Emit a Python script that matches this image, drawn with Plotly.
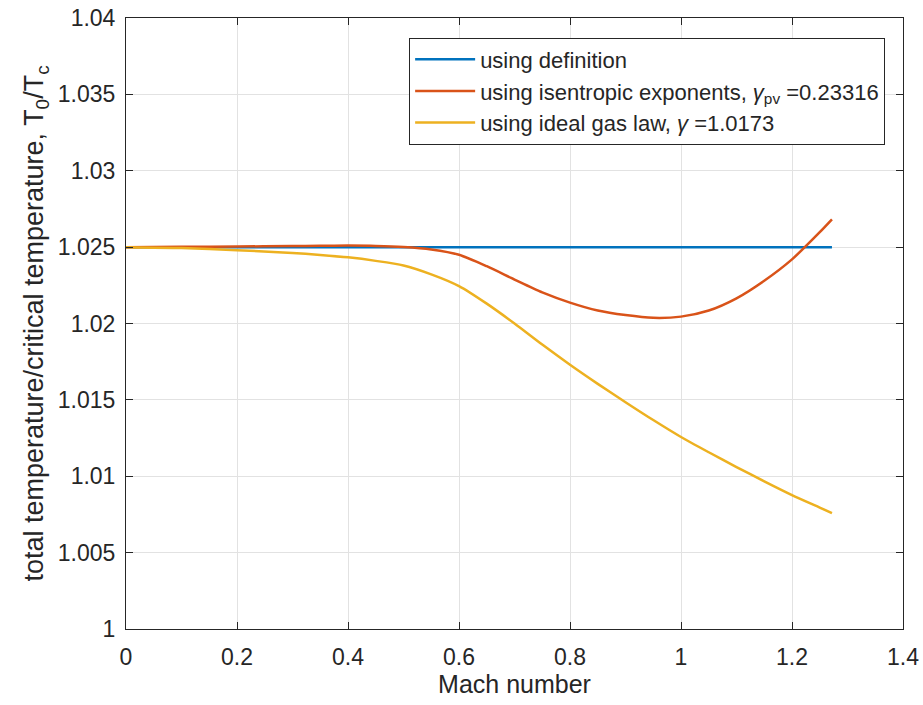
import plotly.graph_objects as go

# Mach number samples
mach = [0.0, 0.1, 0.2, 0.3, 0.35, 0.4, 0.45, 0.5, 0.55, 0.6, 0.65, 0.7, 0.75,
        0.8, 0.85, 0.9, 0.95, 1.0, 1.05, 1.1, 1.15, 1.2, 1.25, 1.272]

# T0/Tc from the definition
t0_definition = [1.02500, 1.02500, 1.02500, 1.02500, 1.02500, 1.02500, 1.02500,
                 1.02500, 1.02500, 1.02500, 1.02500, 1.02500, 1.02500, 1.02500,
                 1.02500, 1.02500, 1.02500, 1.02500, 1.02500, 1.02500, 1.02500,
                 1.02500, 1.02500, 1.02500]

# T0/Tc from isentropic exponents
t0_isentropic = [1.02500, 1.02502, 1.02504, 1.02507, 1.02509, 1.02510, 1.02508,
                 1.02501, 1.02485, 1.02450, 1.02375, 1.02288, 1.02204, 1.02137,
                 1.02085, 1.02055, 1.02037, 1.02045, 1.02085, 1.02165, 1.02280,
                 1.02420, 1.02598, 1.02682]

# T0/Tc from the ideal gas law
t0_ideal = [1.02500, 1.02494, 1.02480, 1.02462, 1.02449, 1.02433, 1.02410,
            1.02380, 1.02322, 1.02245, 1.02130, 1.02000, 1.01862, 1.01730,
            1.01605, 1.01485, 1.01368, 1.01257, 1.01157, 1.01060, 1.00967,
            1.00877, 1.00795, 1.00759]

names = [
    "using definition",
    "using isentropic exponents, <i>γ</i><sub>pv</sub> =0.23316",
    "using ideal gas law, <i>γ</i> =1.0173",
]
colors = ["#0072BD", "#D95319", "#EDB120"]

x_ticks = [0, 0.2, 0.4, 0.6, 0.8, 1, 1.2, 1.4]
x_tick_text = ["0", "0.2", "0.4", "0.6", "0.8", "1", "1.2", "1.4"]
y_ticks = [1, 1.005, 1.01, 1.015, 1.02, 1.025, 1.03, 1.035, 1.04]
y_tick_text = ["1", "1.005", "1.01", "1.015", "1.02", "1.025", "1.03", "1.035", "1.04"]

FONT = "Liberation Sans, Arial, Helvetica, sans-serif"
INK = "#262626"

fig = go.Figure()
for y, name, c in zip([t0_definition, t0_isentropic, t0_ideal], names, colors):
    fig.add_trace(go.Scatter(x=mach, y=y, mode="lines", name=name,
                             line=dict(color=c, width=2.5, shape="spline", smoothing=0.7)))

axis_common = dict(
    showline=True, linecolor=INK, linewidth=1, mirror="ticks",
    ticks="inside", ticklen=7, tickcolor=INK,
    showgrid=True, gridcolor="#e2e2e2", gridwidth=1,
    zeroline=False, automargin=False,
    tickfont=dict(family=FONT, size=23, color=INK),
)

fig.update_xaxes(range=[0, 1.4], tickvals=x_ticks, ticktext=x_tick_text,
                 ticklabelstandoff=7,
                 title=dict(text="Mach number", standoff=6,
                            font=dict(family=FONT, size=25, color=INK)),
                 **axis_common)
fig.update_yaxes(range=[1, 1.04], tickvals=y_ticks, ticktext=y_tick_text,
                 ticklabelstandoff=5,
                 title=dict(text="total temperature/critical temperature, T<sub>0</sub>/T<sub>c</sub>",
                            standoff=6, font=dict(family=FONT, size=27, color=INK)),
                 **axis_common)

fig.update_layout(
    width=923, height=705,
    margin=dict(l=126, r=20, t=18, b=76),
    paper_bgcolor="white", plot_bgcolor="white",
    font=dict(family=FONT, color=INK),
    legend=dict(x=0.977, y=0.968, xanchor="right", yanchor="top",
                bgcolor="white", bordercolor=INK, borderwidth=1,
                font=dict(family=FONT, size=22, color=INK), tracegroupgap=0,
                itemwidth=60),
    showlegend=True,
)

fig.write_html("out.html")
